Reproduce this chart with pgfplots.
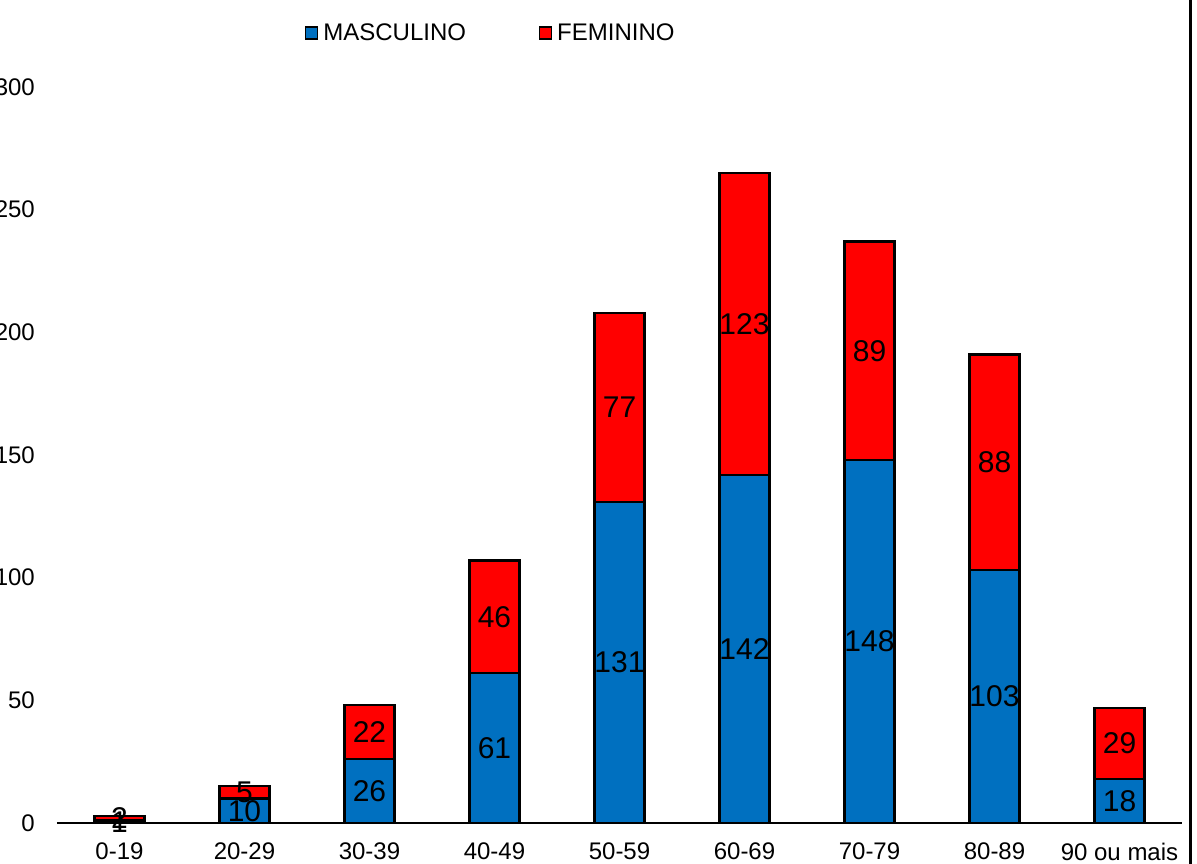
\documentclass[border=0pt]{standalone}
\usepackage{fontspec}
\setmainfont{Liberation Sans}
\usepackage{pgfplots}
\usepackage{pgfplotstable}
\pgfplotsset{compat=1.18}
\definecolor{masc}{HTML}{0070C0}
\definecolor{fem}{HTML}{FF0000}
\pgfplotstableread{
x m f
0 1 2
1 10 5
2 26 22
3 61 46
4 131 77
5 142 123
6 148 89
7 103 88
8 18 29
}\data
\begin{document}
\begin{tikzpicture}
\begin{axis}[
  name=ax,
  scale only axis,
  width=1125pt, height=736pt,
  xmin=-0.5, xmax=8.5, ymin=0, ymax=300,
  ybar stacked, bar width=50pt,
  clip=false,
  axis lines=left,
  axis line style={-},
  y axis line style={draw=none},
  x axis line style={line width=1.5pt},
  tick style={draw=none},
  major tick length=0pt,
  xtick={0,...,8},
  xticklabels={0-19,20-29,30-39,40-49,50-59,60-69,70-79,80-89,90 ou mais},
  ytick={0,50,100,150,200,250,300},
  /pgf/number format/assume math mode=true,
  ticklabel style={font=\fontsize{24}{28}\selectfont, inner sep=0pt},
  yticklabel style={anchor=east, xshift=-22pt},
  xticklabel style={anchor=north, yshift=-20pt},
  legend columns=2,
  legend style={at={(0.2204,1.0734)}, anchor=west, draw=none, fill=none,
    inner sep=0pt, font=\fontsize{24}{28}\selectfont,
    nodes={inner sep=0pt},
    /tikz/every odd column/.append style={column sep=5pt},
    /tikz/every even column/.append style={column sep=73pt}},
  every axis plot post/.append style={
    legend image code/.code={\draw[##1, draw=black, line width=1.2pt] (0pt,-6pt) rectangle (12pt,6pt);}},
  nodes near coords,
  point meta=explicit,
  every node near coord/.append style={font=\fontsize{30}{34}\selectfont, anchor=center, text=black},
]
\addplot[fill=masc, draw=black, line width=2.2pt]
  table[x=x, y=m, meta=m] {\data};
\addlegendentry{MASCULINO}
\addplot[fill=fem, draw=black, line width=2.2pt]
  table[x=x, y=f, meta=f] {\data};
\addlegendentry{FEMININO}
\end{axis}
\draw[line width=3pt] ([shift={(1133pt,-60pt)}]ax.south west) -- ([shift={(1133pt,840pt)}]ax.south west);
\pgfresetboundingbox
\path ([shift={(-57pt,-40pt)}]ax.south west) rectangle ([shift={(1140pt,823pt)}]ax.south west);
\end{tikzpicture}
\end{document}
